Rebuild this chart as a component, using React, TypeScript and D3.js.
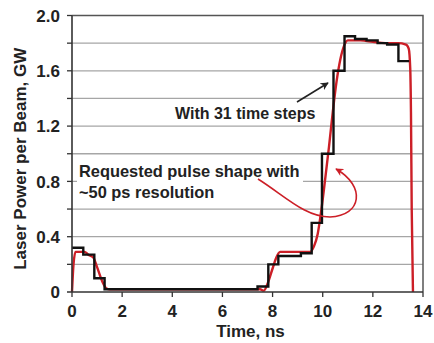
import React, { useEffect, useRef } from 'react';
import * as d3 from 'd3';

// stepped pulse (31 time steps) - start times and power levels
const stepTimes = [0, 0.45, 0.89, 1.3, 7.4, 7.83, 8.23, 9.13, 9.56, 9.97, 10.43, 10.87, 11.29, 11.75, 12.19, 12.57, 13.02, 13.45];
const stepPower = [0.32, 0.27, 0.1, 0.02, 0.04, 0.2, 0.26, 0.28, 0.5, 1.0, 1.6, 1.85, 1.83, 1.82, 1.8, 1.79, 1.67, 1.67];

// requested pulse shape (~50 ps resolution)
const reqTimes = [0, 0.06, 0.14, 0.5, 0.65, 0.85, 1.0, 1.2, 1.38, 1.5, 7.5, 7.65, 7.8, 8.0, 8.15, 8.3, 9.5, 9.65, 9.8, 9.95, 10.1, 10.25, 10.4, 10.55, 10.7, 10.85, 11.0, 11.5, 12.0, 12.5, 13.0, 13.32, 13.43, 13.49, 13.52, 13.55, 13.6];
const reqPower = [0, 0.2, 0.29, 0.29, 0.27, 0.25, 0.18, 0.08, 0.025, 0.02, 0.02, 0.01, 0.06, 0.17, 0.25, 0.29, 0.29, 0.33, 0.42, 0.6, 0.82, 1.05, 1.3, 1.52, 1.68, 1.78, 1.82, 1.82, 1.81, 1.8, 1.8, 1.79, 1.76, 1.62, 1.3, 0.6, 0];

const xTicks = [0, 2, 4, 6, 8, 10, 12, 14];
const yTicks = [0, 0.4, 0.8, 1.2, 1.6, 2.0];
const yGrid = [0.2, 0.4, 0.6, 0.8, 1.0, 1.2, 1.4, 1.6, 1.8];

const App = () => {
  const ref = useRef(null);

  useEffect(() => {
    const width = 434;
    const height = 343;
    const left = 72, right = 423, top = 15.5, bottom = 292;
    const red = '#cc1f27';
    const font = 'Liberation Sans, Arial, sans-serif';

    document.body.style.margin = '0';
    document.body.style.overflow = 'hidden';

    d3.select(ref.current).selectAll('*').remove();
    const svg = d3.select(ref.current)
      .append('svg')
      .attr('width', width)
      .attr('height', height)
      .style('display', 'block');

    const x = d3.scaleLinear().domain([0, 14]).range([left, right]);
    const y = d3.scaleLinear().domain([0, 2]).range([bottom, top]);

    const defs = svg.append('defs');
    [['arrBlack', '#222'], ['arrRed', red]].forEach(([id, c]) => {
      defs.append('marker')
        .attr('id', id)
        .attr('viewBox', '0 0 10 10')
        .attr('refX', 9).attr('refY', 5)
        .attr('markerWidth', 5).attr('markerHeight', 5)
        .attr('orient', 'auto')
        .append('path')
        .attr('d', 'M0,0 L10,5 L0,10 L3,5 Z')
        .attr('fill', c);
    });

    // grid lines
    svg.selectAll('.grid')
      .data(yGrid)
      .enter()
      .append('line')
      .attr('x1', left).attr('x2', right)
      .attr('y1', d => y(d)).attr('y2', d => y(d))
      .attr('stroke', '#a6a6a6')
      .attr('stroke-width', 1.3);

    // frame top/right
    svg.append('path')
      .attr('d', `M${left},${top} H${right} V${bottom}`)
      .attr('fill', 'none')
      .attr('stroke', '#555')
      .attr('stroke-width', 1.5);

    // white box behind annotation text
    svg.append('rect')
      .attr('x', 77).attr('y', 162).attr('width', 226).attr('height', 40)
      .attr('fill', 'white');

    // requested pulse
    const redLine = d3.line()
      .x(d => x(d[0]))
      .y(d => y(d[1]))
      .curve(d3.curveMonotoneX);
    svg.append('path')
      .attr('d', redLine(reqTimes.map((t, i) => [t, reqPower[i]])))
      .attr('fill', 'none')
      .attr('stroke', red)
      .attr('stroke-width', 2.4);

    // stepped pulse
    const stepLine = d3.line()
      .x(d => x(d[0]))
      .y(d => y(d[1]))
      .curve(d3.curveStepAfter);
    svg.append('path')
      .attr('d', stepLine(stepTimes.map((t, i) => [t, stepPower[i]])))
      .attr('fill', 'none')
      .attr('stroke', '#111')
      .attr('stroke-width', 2.4);

    // axes
    svg.append('line')
      .attr('x1', left).attr('x2', left).attr('y1', top).attr('y2', bottom)
      .attr('stroke', '#333').attr('stroke-width', 1.6);
    svg.append('line')
      .attr('x1', left - 5).attr('x2', right).attr('y1', bottom).attr('y2', bottom)
      .attr('stroke', '#333').attr('stroke-width', 1.6);

    svg.selectAll('.yt')
      .data([...yGrid, 2.0])
      .enter()
      .append('line')
      .attr('x1', left - 5).attr('x2', left)
      .attr('y1', d => y(d)).attr('y2', d => y(d))
      .attr('stroke', '#333').attr('stroke-width', 1.3);

    svg.selectAll('.xt')
      .data(xTicks)
      .enter()
      .append('line')
      .attr('x1', d => x(d)).attr('x2', d => x(d))
      .attr('y1', bottom).attr('y2', bottom + 5)
      .attr('stroke', '#333').attr('stroke-width', 1.3);

    svg.selectAll('.yl')
      .data(yTicks)
      .enter()
      .append('text')
      .attr('x', left - 12)
      .attr('y', d => y(d))
      .attr('dy', '0.36em')
      .attr('text-anchor', 'end')
      .attr('font-family', font)
      .attr('font-weight', 'bold')
      .attr('font-size', 17)
      .attr('fill', '#222')
      .text(d => (d === 0 ? '0' : d.toFixed(1)));

    svg.selectAll('.xl')
      .data(xTicks)
      .enter()
      .append('text')
      .attr('x', d => x(d))
      .attr('y', 317)
      .attr('text-anchor', 'middle')
      .attr('font-family', font)
      .attr('font-weight', 'bold')
      .attr('font-size', 17)
      .attr('fill', '#222')
      .text(d => d);

    svg.append('text')
      .attr('x', (left + right) / 2 + 3)
      .attr('y', 337)
      .attr('text-anchor', 'middle')
      .attr('font-family', font)
      .attr('font-weight', 'bold')
      .attr('font-size', 17)
      .attr('fill', '#222')
      .text('Time, ns');

    svg.append('text')
      .attr('transform', `translate(26,${(top + bottom) / 2 + 5}) rotate(-90)`)
      .attr('text-anchor', 'middle')
      .attr('font-family', font)
      .attr('font-weight', 'bold')
      .attr('font-size', 17)
      .attr('fill', '#222')
      .text('Laser Power per Beam, GW');

    // annotations
    const ann = (t, yy) => svg.append('text')
      .attr('x', 79).attr('y', yy)
      .attr('font-family', font)
      .attr('font-weight', 'bold')
      .attr('font-size', 16.4)
      .attr('fill', '#222')
      .text(t);
    ann('Requested pulse shape with', 177);
    ann('~50 ps resolution', 198);

    svg.append('text')
      .attr('x', 175).attr('y', 119)
      .attr('font-family', font)
      .attr('font-weight', 'bold')
      .attr('font-size', 16)
      .attr('fill', '#222')
      .text('With 31 time steps');

    svg.append('line')
      .attr('x1', 297).attr('y1', 102)
      .attr('x2', 328).attr('y2', 83)
      .attr('stroke', '#222').attr('stroke-width', 1.6)
      .attr('marker-end', 'url(#arrBlack)');

    svg.append('path')
      .attr('d', 'M258,179 C285,196 305,217 330,217 C362,216 366,186 336,169')
      .attr('fill', 'none')
      .attr('stroke', red)
      .attr('stroke-width', 1.6)
      .attr('marker-end', 'url(#arrRed)');
  }, []);

  return <div ref={ref}></div>;
};

export default App;
